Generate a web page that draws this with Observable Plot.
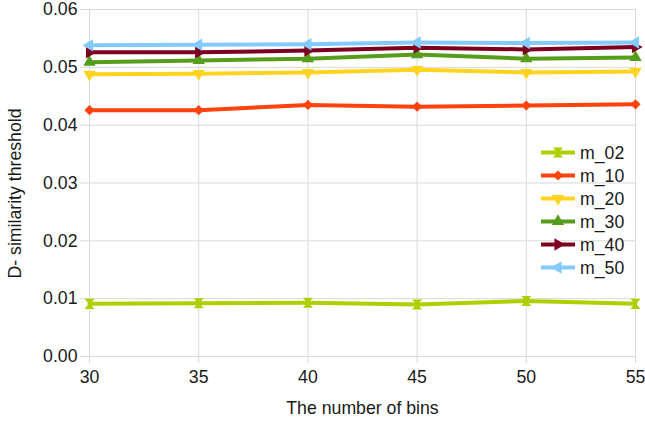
<!DOCTYPE html>
<html>
<head>
<meta charset="utf-8">
<script src="https://cdn.jsdelivr.net/npm/d3@7"></script>
<script src="https://cdn.jsdelivr.net/npm/@observablehq/plot@0.6"></script>
<style>
  html, body { margin: 0; padding: 0; background: #fff; }
  #chart { position: relative; width: 645px; height: 423px; }
</style>
</head>
<body>
<div id="chart"></div>
<script>
const bins = [30, 35, 40, 45, 50, 55];
const seriesNames = ["m_02", "m_10", "m_20", "m_30", "m_40", "m_50"];
const m_02 = [0.0091, 0.0092, 0.0093, 0.0090, 0.0096, 0.0091];
const m_10 = [0.0426, 0.0426, 0.0435, 0.0432, 0.0434, 0.0436];
const m_20 = [0.0488, 0.0489, 0.0491, 0.0496, 0.0491, 0.0493];
const m_30 = [0.0509, 0.0512, 0.0515, 0.0522, 0.0515, 0.0517];
const m_40 = [0.0526, 0.0526, 0.0529, 0.0534, 0.0531, 0.0535];
const m_50 = [0.0538, 0.0539, 0.0540, 0.0543, 0.0542, 0.0543];
const seriesValues = [m_02, m_10, m_20, m_30, m_40, m_50];
const colors = ["#aecf00", "#ff420e", "#ffd320", "#579d1c", "#7e0021", "#83caff"];
const yTicks = [0, 0.01, 0.02, 0.03, 0.04, 0.05, 0.06];
const xTicks = [30, 35, 40, 45, 50, 55];
const xLabel = "The number of bins";
const yLabel = "D- similarity threshold";

// custom hourglass symbol
const hourglass = {
  draw(context, size) {
    const r = Math.sqrt(size) * 0.62;
    context.moveTo(-r, -r);
    context.lineTo(r, -r);
    context.lineTo(r * 0.15, 0);
    context.lineTo(r, r);
    context.lineTo(-r, r);
    context.lineTo(-r * 0.15, 0);
    context.closePath();
  }
};
const symbols = [hourglass, d3.symbolDiamond2, d3.symbolTriangle, d3.symbolTriangle, d3.symbolTriangle, d3.symbolTriangle];
const rotations = [0, 0, 180, 0, 90, -90];

const rows = [];
seriesNames.forEach((name, i) => {
  bins.forEach((b, j) => rows.push({series: name, bins: b, value: seriesValues[i][j]}));
});

const font = "'Liberation Sans', Arial, sans-serif";
const fs = 17.7;
const ink = "#1a1a1a";
const marks = [
  Plot.gridY(yTicks, {stroke: "#d9d9d9", strokeOpacity: 1}),
  Plot.gridX(xTicks, {stroke: "#d9d9d9", strokeOpacity: 1}),
  Plot.axisY(yTicks, {tickFormat: d3.format(".2f"), tickSize: 9, tickPadding: 3, stroke: "#d9d9d9", fill: ink, fontSize: fs, label: null}),
  Plot.axisX(xTicks, {tickSize: 7, tickPadding: 7, stroke: "#d9d9d9", fill: ink, fontSize: fs, label: null}),
];
seriesNames.forEach((name, i) => {
  const d = rows.filter(r => r.series === name);
  marks.push(Plot.line(d, {x: "bins", y: "value", stroke: colors[i], strokeWidth: 4}));
});
seriesNames.forEach((name, i) => {
  const d = rows.filter(r => r.series === name);
  marks.push(Plot.dot(d, {x: "bins", y: "value", fill: colors[i], stroke: "none", symbol: symbols[i], r: 4.6, rotate: rotations[i]}));
});
marks.push(Plot.text([yLabel], {frameAnchor: "left", dx: -74, dy: 10.5, rotate: -90, fontSize: fs, fill: ink, textAnchor: "middle"}));
marks.push(Plot.text([xLabel], {frameAnchor: "bottom", dy: 57, fontSize: fs, fill: ink, textAnchor: "middle"}));

const plot = Plot.plot({
  width: 645,
  height: 423,
  marginLeft: 89,
  marginRight: 10,
  marginTop: 9,
  marginBottom: 67,
  style: {fontFamily: font, fontSize: fs + "px", background: "#fff", color: ink, overflow: "visible"},
  x: {domain: [30, 55], axis: null},
  y: {domain: [0, 0.06], axis: null},
  marks
});
document.getElementById("chart").appendChild(plot);

// legend, inside the plot area at right
const svg = d3.select(plot);
const legend = svg.append("g").attr("transform", "translate(541,152.5)");
seriesNames.forEach((name, i) => {
  const g = legend.append("g").attr("transform", `translate(0,${i * 23})`);
  g.append("line").attr("x1", 0).attr("x2", 34).attr("y1", 0).attr("y2", 0)
    .attr("stroke", colors[i]).attr("stroke-width", 4);
  g.append("path").attr("d", d3.symbol(symbols[i], Math.PI * 4.6 * 4.6)())
    .attr("transform", `translate(17,0) rotate(${rotations[i]})`)
    .attr("fill", colors[i]);
  g.append("text").attr("x", 39).attr("y", 0).attr("dy", "0.35em")
    .attr("text-anchor", "start")
    .attr("font-size", fs).attr("font-family", font).attr("fill", ink).text(name);
});
</script>
</body>
</html>
